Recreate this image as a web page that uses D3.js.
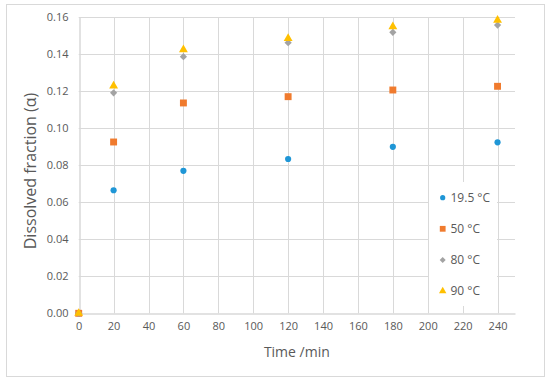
<!DOCTYPE html>
<html lang="en">
<head>
  <meta charset="UTF-8">
  <title>Dissolved fraction vs time</title>
  <style>
    body { margin: 0; padding: 0; background: #fff; font-family: "Open Sans", Calibri, sans-serif; }
    .grid line { stroke: #d9d9d9; stroke-width: 1px; }
    .tick text { fill: #595959; font-size: 11px; }
    .title { fill: #595959; font-size: 14px; }
    .legend text { fill: #595959; font-size: 12px; }
  </style>
</head>
<body>
<div id="chart"></div>
<script src="https://d3js.org/d3.v7.min.js"></script>
<script>
  // Data
  const times = [0, 20, 60, 120, 180, 240];
  const seriesNames = ["19.5 °C", "50 °C", "80 °C", "90 °C"];
  const alpha195 = [0, 0.0665, 0.077, 0.0834, 0.090, 0.0924];
  const alpha50  = [0, 0.0926, 0.1137, 0.1171, 0.1207, 0.1227];
  const alpha80  = [0, 0.1192, 0.1387, 0.1463, 0.1519, 0.1558];
  const alpha90  = [0, 0.1229, 0.1425, 0.1486, 0.1549, 0.1585];
  const xTicks = [0, 20, 40, 60, 80, 100, 120, 140, 160, 180, 200, 220, 240];
  const yTicks = [0, 0.02, 0.04, 0.06, 0.08, 0.10, 0.12, 0.14, 0.16];

  const colors = ["#1f96d6", "#f07b2e", "#a3a3a3", "#ffc000"];
  // diamond = square turned 45 degrees (Excel style, not elongated)
  const shapes = [d3.symbolCircle, d3.symbolSquare, d3.symbolSquare, d3.symbolTriangle];
  const rotations = [0, 0, 45, 0];
  const sizes = [30, 48, 26, 34];
  const allSeries = [alpha195, alpha50, alpha80, alpha90];

  const width = 550, height = 382;
  const svg = d3.select("#chart").append("svg")
      .attr("width", width).attr("height", height);

  // outer chart border
  svg.append("rect")
      .attr("x", 6.5).attr("y", 4.5)
      .attr("width", 538).attr("height", 372)
      .attr("fill", "#fff").attr("stroke", "#d9d9d9");

  const x = d3.scaleLinear().domain([0, 250]).range([78.7, 515]);
  const y = d3.scaleLinear().domain([0, 0.16]).range([313.3, 17.3]);

  // gridlines
  const grid = svg.append("g").attr("class", "grid");
  grid.selectAll("line.v").data(xTicks.slice(1)).enter().append("line")
      .attr("class", "v")
      .attr("x1", d => Math.round(x(d)) + 0.5).attr("x2", d => Math.round(x(d)) + 0.5)
      .attr("y1", y(0.16)).attr("y2", y(0));
  grid.selectAll("line.h").data(yTicks.slice(1)).enter().append("line")
      .attr("class", "h")
      .attr("x1", x(0)).attr("x2", x(250))
      .attr("y1", d => Math.round(y(d)) + 0.5).attr("y2", d => Math.round(y(d)) + 0.5);

  // axes
  const xAxis = svg.append("g")
      .attr("transform", `translate(0,${Math.round(y(0)) + 0.5})`)
      .call(d3.axisBottom(x).tickValues(xTicks).tickSize(0).tickPadding(9).tickFormat(d3.format("d")));
  xAxis.select(".domain").attr("stroke", "#d9d9d9").attr("stroke-width", 1.5);

  const yAxis = svg.append("g")
      .attr("transform", `translate(${Math.round(x(0)) + 0.5},0)`)
      .call(d3.axisLeft(y).tickValues(yTicks).tickSize(0).tickPadding(11).tickFormat(d3.format(".2f")));
  yAxis.select(".domain").attr("stroke", "#d9d9d9").attr("stroke-width", 1.5);

  svg.selectAll(".tick text").attr("font-family", "'Open Sans', sans-serif");

  // axis titles
  svg.append("text").attr("class", "title")
      .attr("x", x(125)).attr("y", 357)
      .attr("text-anchor", "middle").text("Time /min");
  svg.append("text").attr("class", "title")
      .attr("transform", "translate(36,171) rotate(-90)")
      .attr("text-anchor", "middle").style("font-size", "16px")
      .text("Dissolved fraction (α)");

  // legend background (covers gridlines)
  const legend = svg.append("g").attr("class", "legend");
  legend.append("rect")
      .attr("x", 429).attr("y", 182).attr("width", 68).attr("height", 124)
      .attr("fill", "#fff");

  // points
  allSeries.forEach((vals, i) => {
    svg.append("g").selectAll("path").data(times.map((t, j) => ({ t: t, v: vals[j] })))
      .enter().append("path")
      .attr("transform", d => `translate(${x(d.t)},${y(d.v)}) rotate(${rotations[i]})`)
      .attr("d", d3.symbol().type(shapes[i]).size(sizes[i]))
      .attr("fill", colors[i]);
  });

  const legendY = d3.scalePoint().domain(seriesNames).range([197.7, 291]);
  seriesNames.forEach((name, i) => {
    legend.append("path")
      .attr("transform", `translate(442.7,${legendY(name)}) rotate(${rotations[i]})`)
      .attr("d", d3.symbol().type(shapes[i]).size(sizes[i] * 0.7))
      .attr("fill", colors[i]);
    legend.append("text")
      .attr("x", 450.5).attr("y", legendY(name)).attr("dy", "0.35em")
      .text(name);
  });
</script>
</body>
</html>
